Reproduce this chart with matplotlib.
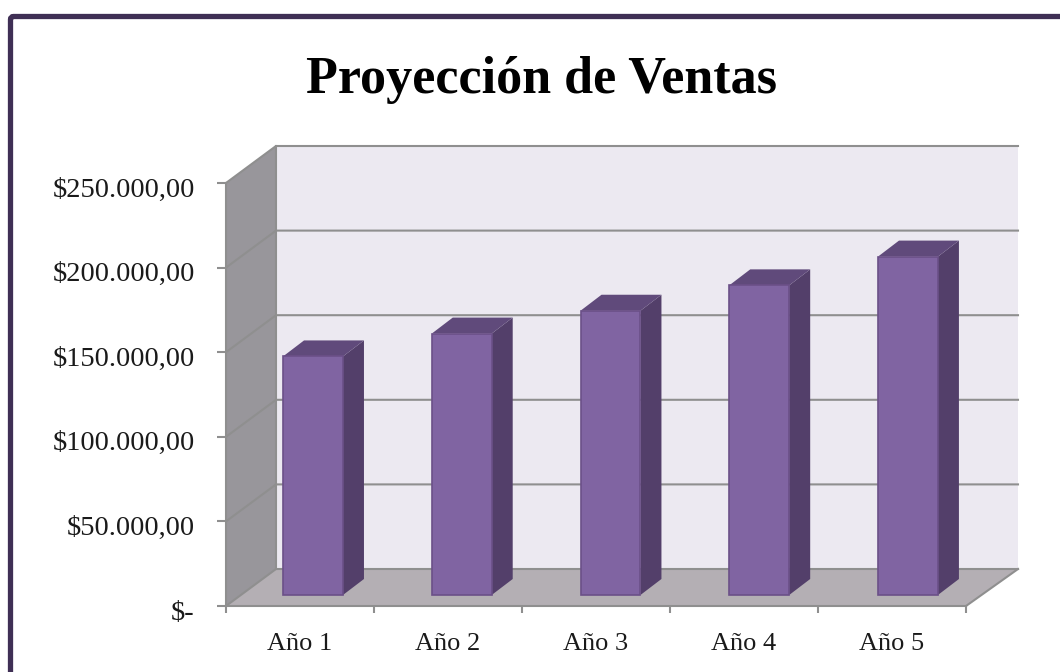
import matplotlib
matplotlib.use("Agg")
import matplotlib.pyplot as plt
from matplotlib.patches import Polygon, FancyBboxPatch
from matplotlib.transforms import Affine2D, IdentityTransform

categories = ["Año 1", "Año 2", "Año 3", "Año 4", "Año 5"]
ventas = [141000, 154500, 168000, 183000, 200000]
yticks = [0, 50000, 100000, 150000, 200000, 250000]
ylabels = ["$-", "$50.000,00", "$100.000,00", "$150.000,00", "$200.000,00", "$250.000,00"]
titulo = "Proyección de Ventas"

W, H = 1060, 672
GRAY = "#8F8F8F"
plt.rcParams["font.family"] = ["Liberation Serif", "DejaVu Serif"]
fig = plt.figure(figsize=(W / 100, H / 100), dpi=100, facecolor="white")
ax = fig.add_axes([226 / W, 1 - 606 / H, 740 / W, 423 / H], facecolor="none")
ax.set_xlim(0, len(categories))
ax.set_ylim(0, 250000)

# depth of the 3D box and of the bars, in pixels
DX, DY = 50, 37
BX, BY = 21, 16
FX, FY = 15, 11


def P(x, y, dx=0, dy=0):
    px, py = ax.transData.transform((x, y))
    return (px + dx, py + dy)


def face(points, **kw):
    kw.setdefault("lw", 0)
    ax.add_patch(Polygon(points, closed=True, transform=IdentityTransform(), clip_on=False, **kw))


n = len(categories)
top = yticks[-1]
# back wall, side wall, floor
face([P(0, 0, DX, DY), P(n, 0, DX + 2, DY), P(n, top, DX + 2, DY), P(0, top, DX, DY)],
     fc="#ECE9F1", zorder=1)
face([P(0, 0), P(0, 0, DX, DY), P(0, top, DX, DY), P(0, top)], fc="#98969B", zorder=1)
face([P(0, 0), P(n, 0), P(n, 0, DX + 2, DY), P(0, 0, DX, DY)], fc="#B4AFB4", zorder=1)

# grid lines on both walls
for v in yticks:
    a, b, c = P(0, v), P(0, v, DX, DY), P(n, v, DX + 2, DY)
    ax.plot([a[0], b[0], c[0]], [a[1], b[1], c[1]], color=GRAY, lw=1.5,
            transform=IdentityTransform(), clip_on=False, zorder=2, solid_joinstyle="miter")
a, b = P(0, 0, DX, DY), P(0, top, DX, DY)
ax.plot([a[0], b[0]], [a[1], b[1]], color=GRAY, lw=1.5, transform=IdentityTransform(), clip_on=False, zorder=2)
a, b = P(n, 0), P(n, 0, DX + 2, DY)
ax.plot([a[0], b[0]], [a[1], b[1]], color=GRAY, lw=1.5, transform=IdentityTransform(), clip_on=False, zorder=2)

# bars
offset = ax.transData + Affine2D().translate(FX - 2, FY)
width = 0.405
xs = [i + 0.5 for i in range(n)]
bar_xs = [i * 1.005 + 0.5 for i in range(n)]
ax.bar(bar_xs, ventas, width=width, color="#8064A2", edgecolor="#6B5088", linewidth=1.2,
       transform=offset, zorder=4, clip_on=False)
for x, v in zip(bar_xs, ventas):
    x0, x1 = x - width / 2, x + width / 2
    ox, oy = FX - 2, FY
    face([P(x1, 0, ox, oy), P(x1, 0, ox + BX, oy + BY), P(x1, v, ox + BX, oy + BY), P(x1, v, ox, oy)],
         fc="#533F6A", zorder=3)
    face([P(x0, v, ox, oy), P(x1, v, ox, oy), P(x1, v, ox + BX, oy + BY), P(x0, v, ox + BX, oy + BY)],
         fc="#604A7B", zorder=3)

# axes
for s in ("top", "right"):
    ax.spines[s].set_visible(False)
for s in ("left", "bottom"):
    ax.spines[s].set_color(GRAY)
    ax.spines[s].set_linewidth(1.5)
    ax.spines[s].set_zorder(5)
ax.set_yticks(yticks, ylabels, fontsize=20.5, color="#1A1A1A", va="center")
ax.set_xticks(range(n + 1), [""] * (n + 1))
ax.set_xticks(xs, categories, minor=True, fontsize=19, color="#1A1A1A")
ax.tick_params(axis="y", length=6.5, width=1.5, color=GRAY, pad=16)
ax.tick_params(axis="x", which="major", length=5, width=1.5, color=GRAY)
ax.tick_params(axis="x", which="minor", length=0, pad=19.5)
for lab in ax.get_yticklabels():
    lab.set_transform(lab.get_transform() + Affine2D().translate(0, -7))

fig.text(541 / W, 1 - 80 / H, titulo, fontsize=37.5, fontweight="bold", color="black",
         ha="center", va="center")

# outer frame, open towards the right and bottom
frame = FancyBboxPatch((10.5, H - 16.5 - 700), 1100, 700, boxstyle="round,pad=0,rounding_size=3",
                       fc="none", ec="#3F2F55", lw=3.8, transform=IdentityTransform(), clip_on=False)
fig.add_artist(frame)

fig.savefig("out.png", dpi=100, facecolor="white")
